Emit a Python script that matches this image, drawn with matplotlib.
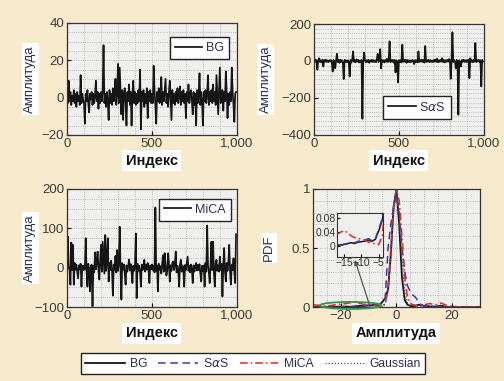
"""Four-panel figure: BG / SaS / MiCA noise samples and their amplitude PDFs.

Values read off the reference picture by eye (one value every 5 samples).
Output: out.png (504x381)
"""
import numpy as np
import matplotlib
matplotlib.use("Agg")
import matplotlib.pyplot as plt
from matplotlib.patches import Ellipse
from matplotlib.ticker import MultipleLocator, FuncFormatter

plt.rcParams["font.family"] = ["Liberation Sans", "DejaVu Sans"]

# ---- time series (index step 5, 0..995) ----
IDX_STEP = 5
bg = [
    2, -3, 9, -2, 3, -4, 1, -2, 4, -3, 2, -5, 3, -2, 1, -4, 12, -3, 2, -1,
    -3, -14, 2, -2, 4, -3, -8, 2, -1, 3, -4, 2, -3, 1, 9, -2, 3, -6, 2, -3,
    3, -2, 4, 28, -3, 2, -5, 3, -2, -12, 4, -3, 2, -4, 5, -2, 3, 10, -4, 2,
    18, -3, 16, 3, -9, 4, -12, 2, 5, -3, -15, 3, -2, 7, -4, 3, -15, 2, 9, -3,
    3, -4, 2, -3, 4, -2, 15, -17, 3, -2, 4, -5, 2, -3, 5, -11, 3, -2, 4, -3,
    2, -3, 17, 4, -4, -14, 3, -2, 5, -3, 2, 11, -4, 3, -2, 4, 10, -3, 2, -5,
    3, 9, -2, -12, 4, -3, 2, -4, 3, -2, 5, -3, 2, 6, -4, 3, -2, 4, -3, 2,
    -11, 3, -2, 7, -3, 2, 4, -2, -9, 3, -4, 2, -15, 4, -3, 2, 13, -4, 3, -2,
    -15, 3, -2, 4, -3, 2, 12, -4, 3, -2, 4, -3, 7, -2, 3, -4, 12, 2, -9, 3,
    16, -3, 2, 4, -7, 3, -2, 14, 3, -11, 2, -4, 3, -2, 16, 3, -4, -13, 2, 3,
]
sas = [
    3, -5, 8, -4, -48, 5, 15, -6, 4, -8, 6, -30, 5, -4, 7, -5, 3, -6, 4, -3,
    5, -8, -57, 6, -12, -40, 4, 39, -6, 5, -10, 7, -5, 4, -8, -98, 6, -5, 3, -7,
    4, -6, -84, 5, -9, 6, 52, -5, 4, -7, 8, -4, 5, -8, 3, -6, 5, -313, -4, 46,
    5, -8, 4, -5, 6, -10, 3, -4, 7, -6, 4, -5, 3, -7, 10, 39, -6, 4, 64, -40,
    6, -5, 4, -8, 5, -4, 12, -6, 3, 106, -7, 5, -4, 6, -10, 5, -62, 4, -5, -116,
    5, -6, 4, -8, 88, -5, 6, -4, 7, -10, 5, -6, 4, -7, 3, -5, 6, -4, -17, 5,
    -5, 4, -8, 52, -6, 5, -4, 7, -5, 4, -9, 81, -6, 5, -4, 6, -7, 4, -5, 3,
    -6, 5, -4, 8, -5, 12, -7, 4, -5, 6, -4, 15, -6, 5, -8, 4, -5, 6, -4, 10,
    5, -96, 4, 155, -6, 5, -4, -40, 6, -5, -291, 4, -6, -30, 5, -4, 7, -5, 4, -6,
    5, -4, 6, -93, 15, -5, 4, -7, 5, -4, 97, -6, 5, -4, 6, -5, 4, -138, 6, -3,
]
mica = [
    -14, 79, 5, -8, -43, 64, -6, 58, -43, 12, -5, 8, -10, -27, 6, -4, 10, -48, 5, -7,
    6, -5, 75, -8, -48, 10, -6, -60, 4, 8, -98, 5, -12, 39, -4, 15, 41, -6, -30, 20,
    58, -10, 66, 25, -15, 83, -8, 20, 75, -35, 12, -6, 18, -10, -71, 8, -5, 30, -12, 45,
    -8, 10, 104, -6, -81, 12, -5, 8, -15, -43, 6, -10, 4, 21, -7, 9, -12, -39, 5, -8,
    6, 87, -77, 10, -8, 5, -12, -48, 8, -6, 4, 20, -10, 7, -5, 12, -8, -39, 6, -4,
    8, -6, 5, -12, 153, -8, 6, -60, 10, -5, 4, -15, 8, 32, -10, 37, 6, -20, -8, 37,
    10, -35, 6, -8, 12, 16, -6, 9, 41, -12, 5, -7, -48, 8, 20, -10, 6, -5, -48, 7,
    -6, 10, 28, -8, 5, -12, 8, -5, -39, 6, -10, 4, 12, -7, 7, -6, 9, -15, -35, 5,
    -8, 6, -48, 12, -10, 107, 5, -12, -39, 8, 66, -6, 66, -15, -48, 10, 20, -8, 6, -10,
    28, -6, 10, -73, 8, 50, -10, -35, 12, -8, 15, 58, -12, -43, 8, -6, 24, -10, -39, 85,
]

# ---- amplitude PDFs ----
pdf_x = [-30, -28, -26, -24, -22, -20, -18, -17, -16, -15, -14, -13, -12, -11,
         -10, -9, -8, -7, -6, -5, -4, -3, -2, -1, 0, 1, 2, 3, 4, 5, 6, 7, 8, 9,
         10, 12, 14, 16, 18, 20, 22, 24, 26, 28, 30]
pdf_bg = [0, 0, 0, 0.002, 0.003, 0.004, 0.004, 0.003, 0.004, 0.006, 0.008, 0.010,
          0.008, 0.012, 0.013, 0.015, 0.018, 0.014, 0.020, 0.045, 0.075, 0.15,
          0.45, 0.85, 1.0, 0.70, 0.25, 0.06, 0.02, 0.01, 0.008, 0.012, 0.020,
          0.015, 0.010, 0.006, 0.004, 0.012, 0.002, 0.001, 0, 0, 0, 0, 0]
pdf_sas = [0, 0, 0, 0, 0, 0, 0, 0.0, 0.002, 0.005, 0.007, 0.010, 0.010, 0.014,
           0.016, 0.018, 0.022, 0.016, 0.022, 0.050, 0.08, 0.50, 0.70, 0.85,
           0.95, 0.80, 0.50, 0.30, 0.18, 0.13, 0.10, 0.08, 0.04, 0.02, 0.01,
           0.005, 0.005, 0.004, 0.003, 0.002, 0.002, 0.001, 0.001, 0, 0]
pdf_mica = [0.020, 0.015, 0.010, 0.012, 0.020, 0.025, 0.030, 0.035, 0.040,
            0.045, 0.038, 0.030, 0.025, 0.022, 0.020, 0.018, 0.012, 0.010,
            0.006, 0.005, 0.03, 0.15, 0.50, 0.85, 1.0, 0.90, 0.60, 0.25, 0.08,
            0.03, 0.02, 0.015, 0.010, 0.012, 0.020, 0.030, 0.020, 0.035, 0.015,
            0.005, 0.003, 0.002, 0.002, 0.002, 0.002]
pdf_gauss = [0, 0, 0, 0, 0, 0, 0, 0, 0, 0, 0, 0, 0, 0, 0, 0, 0, 0, 0, 0, 0.03,
             0.13, 0.41, 0.80, 1.0, 0.80, 0.41, 0.13, 0.03, 0, 0, 0, 0, 0, 0,
             0, 0, 0, 0, 0, 0, 0, 0, 0, 0]

BG_FIG = "#f8ebcd"
AX_FACE = "#efefed"
LBL = "#2c2c55"
C_BG, C_SAS, C_MICA, C_GAUSS = "#151515", "#3b3ba5", "#e3262a", "#555555"


def style(ax, xminor, yminor):
    ax.set_facecolor(AX_FACE)
    ax.xaxis.set_minor_locator(MultipleLocator(xminor))
    ax.yaxis.set_minor_locator(MultipleLocator(yminor))
    ax.grid(which="both", ls=":", lw=0.6, color="#a8a8a8")
    ax.tick_params(which="major", direction="in", length=3, labelsize=9.5,
                   labelcolor="#3a3a3a", pad=2)
    ax.tick_params(which="minor", length=0)
    for s in ax.spines.values():
        s.set_color("#333333")
        s.set_linewidth(0.9)
    ax.set_axisbelow(True)


def labels(ax, xl, yl, ylab_x):
    xbox = dict(facecolor="white", edgecolor="none", pad=2.5)
    ybox = dict(facecolor="white", edgecolor="none", pad=1.5)
    ax.set_xlabel(xl, fontsize=10.5, fontweight="bold", color="#111111",
                  labelpad=3, bbox=xbox)
    ax.set_ylabel(yl, fontsize=9.5, color=LBL, bbox=ybox)
    ax.yaxis.set_label_coords(ylab_x, 0.5)


def ts_panel(ax, y, name, ylim, yticks, yminor, leg_loc, leg_anchor, ylab_x):
    idx = np.arange(len(y)) * IDX_STEP
    ax.plot(idx, y, color=C_BG, lw=1.25, label=name)
    ax.set_xlim(0, 1000)
    ax.set_ylim(*ylim)
    ax.set_xticks([0, 500, 1000])
    ax.xaxis.set_major_formatter(FuncFormatter(lambda v, p: f"{int(v):,}"))
    ax.set_yticks(yticks)
    style(ax, 100, yminor)
    labels(ax, "Индекс", "Амплитуда", ylab_x)
    ax.legend(loc=leg_loc, bbox_to_anchor=leg_anchor, fontsize=9,
              handlelength=2.2, fancybox=False, framealpha=1,
              edgecolor="#222222", borderpad=0.4, handletextpad=0.3,
              labelcolor=LBL)


def main():
    fig = plt.figure(figsize=(5.04, 3.81), dpi=100, facecolor=BG_FIG)

    ax1 = fig.add_axes([0.133, 0.646, 0.337, 0.294])
    ts_panel(ax1, bg, "BG", (-20, 40), [-20, 0, 20, 40], 5,
             "upper right", (0.99, 0.93), -0.18)

    ax2 = fig.add_axes([0.623, 0.646, 0.337, 0.291])
    ts_panel(ax2, sas, "S$\\alpha$S", (-400, 200), [-400, -200, 0, 200], 25,
             "lower left", (0.37, 0.09), -0.25)

    ax3 = fig.add_axes([0.133, 0.194, 0.337, 0.310])
    ts_panel(ax3, mica, "MiCA", (-100, 200), [-100, 0, 100, 200], 25,
             "upper right", (1.0, 0.97), -0.18)

    ax4 = fig.add_axes([0.621, 0.194, 0.331, 0.310])
    h_bg, = ax4.plot(pdf_x, pdf_bg, color=C_BG, lw=1.3, label="BG")
    h_sas, = ax4.plot(pdf_x, pdf_sas, color=C_SAS, lw=1.1, ls=(0, (5, 3)),
                      label="S$\\alpha$S")
    h_mica, = ax4.plot(pdf_x, pdf_mica, color=C_MICA, lw=1.1,
                       ls=(0, (5, 2, 1, 2)), label="MiCA")
    h_g, = ax4.plot(pdf_x, pdf_gauss, color=C_GAUSS, lw=0.9, ls=(0, (1, 1.5)),
                    label="Gaussian")
    ax4.set_xlim(-30, 30)
    ax4.set_ylim(0, 1)
    ax4.set_xticks([-20, 0, 20])
    ax4.set_yticks([0, 0.5, 1])
    ax4.yaxis.set_major_formatter(FuncFormatter(lambda v, p: f"{v:g}"))
    style(ax4, 5, 0.1)
    labels(ax4, "Амплитуда", "PDF", -0.23)

    ax4.add_patch(Ellipse((-16.5, 0.014), 22, 0.06, fill=False,
                          edgecolor="#2e9a4a", lw=1.3, clip_on=False, zorder=5))
    ax4.annotate("", xy=(-15.2, 0.42), xytext=(-9.5, 0.005),
                 arrowprops=dict(arrowstyle="-|>", color="#555555", lw=0.9,
                                 mutation_scale=7), zorder=6)

    ins = fig.add_axes([0.669, 0.326, 0.091, 0.115])
    ins.plot(pdf_x, pdf_bg, color=C_BG, lw=1.1)
    ins.plot(pdf_x, pdf_sas, color=C_SAS, lw=1.1, ls=(0, (5, 3)))
    ins.plot(pdf_x, pdf_mica, color=C_MICA, lw=1.1, ls=(0, (5, 2, 1, 2)))
    ins.set_xlim(-17, -3.8)
    ins.set_ylim(-0.03, 0.095)
    ins.set_xticks([-15, -10, -5])
    ins.set_yticks([0, 0.04, 0.08])
    ins.yaxis.set_major_formatter(FuncFormatter(lambda v, p: f"{v:g}"))
    ins.set_facecolor(AX_FACE)
    ins.tick_params(direction="in", length=2, labelsize=7.5, pad=1,
                    labelcolor="#333333")
    for s in ins.spines.values():
        s.set_color("#333333")
        s.set_linewidth(0.8)

    fig.legend(handles=[h_bg, h_sas, h_mica, h_g], loc="center",
               bbox_to_anchor=(0.502, 0.046), ncol=4, fontsize=8.7,
               handlelength=3.3, columnspacing=0.9, handletextpad=0.4,
               fancybox=False, framealpha=1, edgecolor="#222222",
               borderpad=0.35, labelcolor=LBL)

    fig.savefig("out.png", dpi=100, facecolor=BG_FIG)
    plt.close(fig)


if __name__ == "__main__":
    main()
